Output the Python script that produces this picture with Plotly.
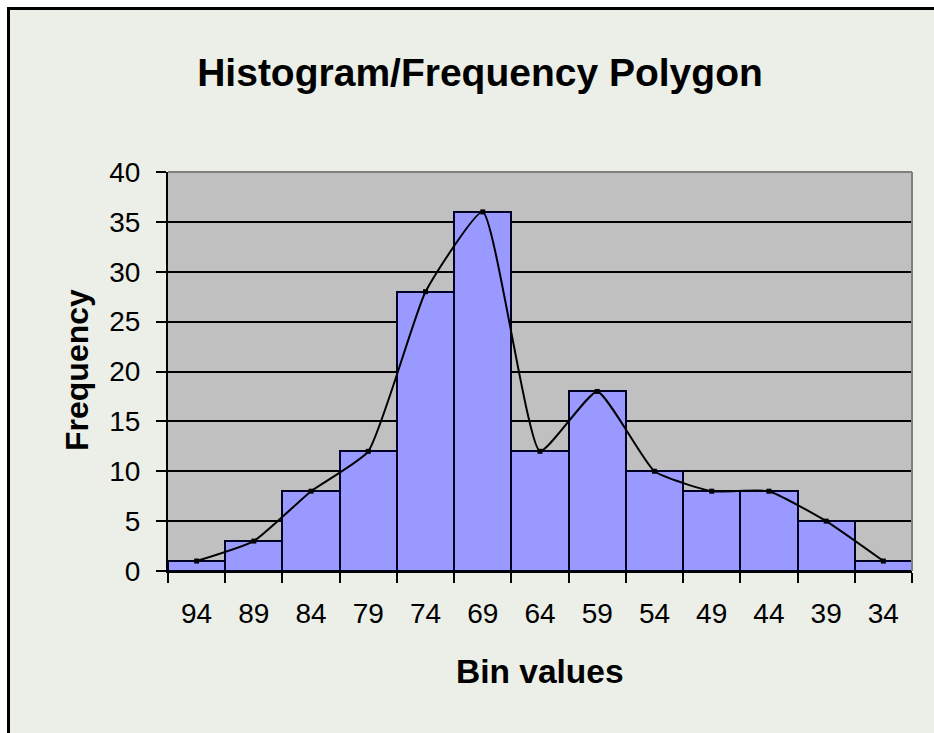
import plotly.graph_objects as go

# Data
bins = ["94", "89", "84", "79", "74", "69", "64", "59", "54", "49", "44", "39", "34"]
freq = [1, 3, 8, 12, 28, 36, 12, 18, 10, 8, 8, 5, 1]
y_ticks = [0, 5, 10, 15, 20, 25, 30, 35, 40]

W, H = 934, 733
M_L, M_R, M_T, M_B = 168, 22, 172, 162
PLOT_W = W - M_L - M_R
PLOT_H = H - M_T - M_B

FONT = "Arial, Liberation Sans, sans-serif"
BG = "#EBEFE7"


def px_x(px):
    """Pixel x -> paper x."""
    return (px - M_L) / PLOT_W


def px_y(py):
    """Pixel y (from top) -> paper y."""
    return (H - M_B - py) / PLOT_H


fig = go.Figure()

fig.add_trace(
    go.Bar(
        x=bins,
        y=freq,
        marker=dict(color="#9999FF", line=dict(color="#000022", width=2)),
        hoverinfo="x+y",
    )
)

fig.add_trace(
    go.Scatter(
        x=bins,
        y=freq,
        mode="lines+markers",
        line=dict(color="#000000", width=2, shape="spline", smoothing=0.45),
        marker=dict(color="#000000", size=5, symbol="square"),
        hoverinfo="x+y",
    )
)

# white strip round the frame, then black frame on top and left
fig.add_shape(type="rect", xref="paper", yref="paper",
              x0=px_x(-20), x1=px_x(7), y0=px_y(H + 20), y1=px_y(-20),
              fillcolor="white", line=dict(width=0))
fig.add_shape(type="rect", xref="paper", yref="paper",
              x0=px_x(-20), x1=px_x(W + 20), y0=px_y(7), y1=px_y(-20),
              fillcolor="white", line=dict(width=0))
fig.add_shape(type="line", xref="paper", yref="paper",
              x0=px_x(7), x1=px_x(W + 20), y0=px_y(8.5), y1=px_y(8.5),
              line=dict(color="black", width=3))
fig.add_shape(type="line", xref="paper", yref="paper",
              x0=px_x(8.5), x1=px_x(8.5), y0=px_y(7), y1=px_y(H + 20),
              line=dict(color="black", width=3))

# Grey plot-area border on top and right
fig.add_shape(type="line", xref="paper", yref="paper",
              x0=0, x1=1, y0=1, y1=1, line=dict(color="#808080", width=2))
fig.add_shape(type="line", xref="paper", yref="paper",
              x0=1, x1=1, y0=0, y1=1, line=dict(color="#808080", width=2))

fig.add_annotation(
    xref="paper", yref="paper", x=px_x(77), y=px_y(370),
    xanchor="center", yanchor="middle",
    text="Frequency", textangle=-90, showarrow=False,
    font=dict(family=FONT, size=32, color="black", weight="bold"),
)
fig.add_annotation(
    xref="paper", yref="paper", x=0.5, y=px_y(671),
    xanchor="center", yanchor="middle",
    text="Bin values", showarrow=False,
    font=dict(family=FONT, size=33.5, color="black", weight="bold"),
)

fig.update_layout(
    width=W,
    height=H,
    margin=dict(l=M_L, r=M_R, t=M_T, b=M_B, autoexpand=False),
    paper_bgcolor=BG,
    plot_bgcolor="#C0C0C0",
    showlegend=False,
    bargap=0,
    font=dict(family=FONT, color="black"),
    title=dict(
        text="Histogram/Frequency Polygon",
        xref="container",
        yref="container",
        x=480 / W,
        xanchor="center",
        y=1 - 72 / H,
        yanchor="middle",
        font=dict(family=FONT, size=39, color="black", weight="bold"),
    ),
)

fig.update_xaxes(
    type="category",
    range=[-0.5, len(bins) - 0.5],
    tickson="boundaries",
    ticks="outside",
    ticklen=10,
    tickwidth=2,
    tickcolor="black",
    showline=True,
    linecolor="black",
    linewidth=2,
    showgrid=False,
    tickfont=dict(family=FONT, size=28, color="black"),
    ticklabelstandoff=16,
)

fig.update_yaxes(
    range=[0, 40],
    tickvals=y_ticks,
    ticks="outside",
    ticklen=10,
    tickwidth=2,
    tickcolor="black",
    showline=True,
    linecolor="black",
    linewidth=2,
    showgrid=True,
    gridcolor="black",
    gridwidth=2,
    zeroline=False,
    tickfont=dict(family=FONT, size=28, color="black"),
    ticklabelstandoff=10,
)

# drop the default body margin so the figure fills the window exactly
fig.write_html(
    "out.html",
    config={"displayModeBar": False},
    post_script="document.body.style.margin='0';document.body.style.overflow='hidden';",
)
